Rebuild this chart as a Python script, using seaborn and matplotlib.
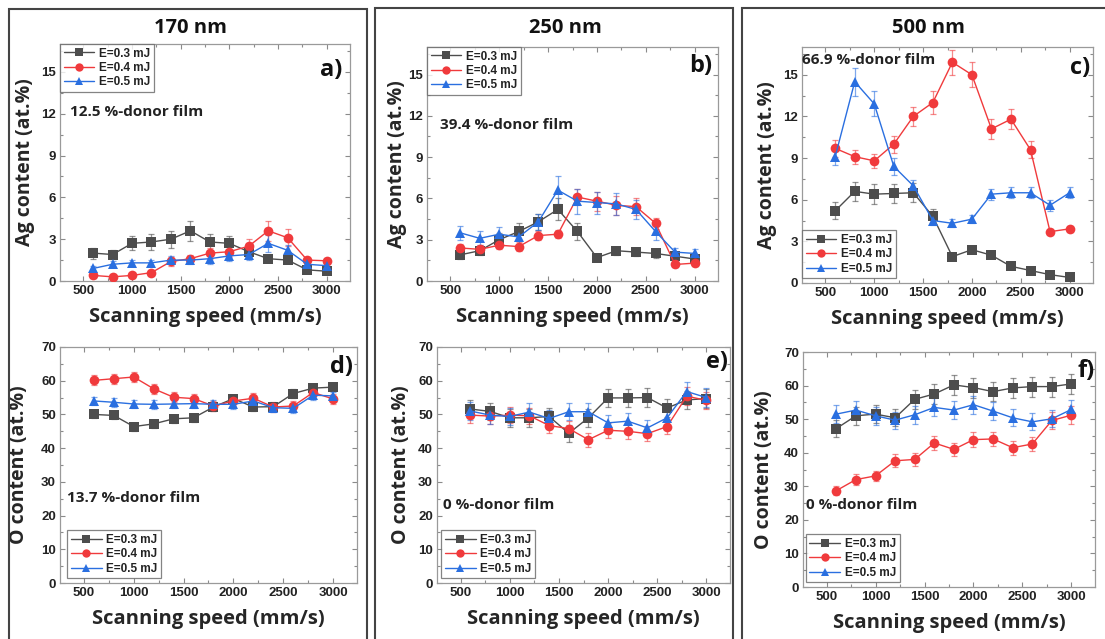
import numpy as np
import pandas as pd
import matplotlib
matplotlib.use("Agg")
import matplotlib.pyplot as plt
import seaborn as sns
from matplotlib.lines import Line2D
from matplotlib.patches import Rectangle
from matplotlib.ticker import MultipleLocator

# ---- data ----
speed = [600, 800, 1000, 1200, 1400, 1600, 1800, 2000, 2200, 2400, 2600, 2800, 3000]
energies = ["E=0.3 mJ", "E=0.4 mJ", "E=0.5 mJ"]

# Ag content, 170 nm
ag170_03 = [2.0, 1.9, 2.7, 2.8, 3.0, 3.6, 2.8, 2.7, 2.1, 1.6, 1.5, 0.8, 0.7]
ag170_04 = [0.4, 0.3, 0.4, 0.6, 1.4, 1.6, 2.0, 2.1, 2.5, 3.6, 3.1, 1.5, 1.45]
ag170_05 = [0.9, 1.2, 1.3, 1.3, 1.5, 1.5, 1.6, 1.8, 1.9, 2.7, 2.2, 1.2, 1.1]
ag170_03_err = [0.4, 0.3, 0.5, 0.6, 0.6, 0.7, 0.6, 0.5, 0.4, 0.2, 0.2, 0.2, 0.2]
ag170_04_err = [0.2, 0.2, 0.2, 0.2, 0.3, 0.3, 0.4, 0.4, 0.5, 0.7, 0.6, 0.2, 0.2]
ag170_05_err = [0.2, 0.2, 0.2, 0.2, 0.3, 0.3, 0.4, 0.4, 0.4, 0.6, 0.4, 0.2, 0.2]

# Ag content, 250 nm
ag250_03 = [1.9, 2.2, 3.0, 3.6, 4.3, 5.2, 3.6, 1.7, 2.2, 2.1, 2.0, 1.8, 1.6]
ag250_04 = [2.4, 2.3, 2.6, 2.5, 3.3, 3.4, 6.1, 5.8, 5.5, 5.4, 4.2, 1.2, 1.3]
ag250_05 = [3.5, 3.1, 3.4, 3.2, 4.3, 6.6, 5.8, 5.7, 5.6, 5.2, 3.6, 2.1, 2.0]
ag250_03_err = [0.3, 0.3, 0.5, 0.6, 0.6, 0.8, 0.6, 0.2, 0.3, 0.3, 0.3, 0.3, 0.3]
ag250_04_err = [0.3, 0.3, 0.3, 0.3, 0.3, 0.3, 0.6, 0.7, 0.7, 0.6, 0.4, 0.2, 0.2]
ag250_05_err = [0.5, 0.5, 0.5, 0.5, 0.6, 1.0, 0.9, 0.8, 0.8, 0.7, 0.6, 0.3, 0.3]

# Ag content, 500 nm
ag500_03 = [5.2, 6.6, 6.4, 6.45, 6.5, 4.8, 1.9, 2.4, 2.0, 1.2, 0.9, 0.6, 0.4]
ag500_04 = [9.7, 9.1, 8.8, 10.0, 12.0, 13.0, 15.9, 15.0, 11.1, 11.8, 9.6, 3.7, 3.9]
ag500_05 = [9.1, 14.5, 12.9, 8.4, 7.0, 4.5, 4.3, 4.6, 6.4, 6.5, 6.5, 5.6, 6.5]
ag500_03_err = [0.6, 0.7, 0.7, 0.7, 0.7, 0.5, 0.2, 0.2, 0.2, 0.2, 0.2, 0.2, 0.2]
ag500_04_err = [0.6, 0.5, 0.5, 0.6, 0.7, 0.8, 0.9, 0.9, 0.7, 0.7, 0.6, 0.2, 0.2]
ag500_05_err = [0.6, 1.0, 0.9, 0.6, 0.4, 0.3, 0.3, 0.3, 0.4, 0.4, 0.4, 0.4, 0.4]

# O content, 170 nm
o170_03 = [50.0, 49.7, 46.4, 47.2, 48.7, 49.0, 52.2, 54.7, 52.2, 52.3, 56.2, 57.8, 58.1]
o170_04 = [60.1, 60.6, 61.1, 57.6, 55.1, 54.7, 52.5, 54.0, 54.8, 52.2, 52.5, 56.5, 54.6]
o170_05 = [54.0, 53.6, 53.1, 53.0, 53.1, 53.2, 53.0, 53.0, 54.0, 52.0, 51.8, 55.7, 55.5]
o170_03_err = [1.2, 1.2, 1.2, 1.2, 1.2, 1.2, 1.2, 1.2, 1.2, 1.2, 1.2, 1.2, 1.2]
o170_04_err = [1.5, 1.5, 1.5, 1.5, 1.5, 1.5, 1.5, 1.5, 1.5, 1.5, 1.5, 1.5, 1.5]
o170_05_err = [1.3, 1.3, 1.3, 1.3, 1.3, 1.3, 1.3, 1.3, 1.3, 1.3, 1.3, 1.3, 1.3]

# O content, 250 nm
o250_03 = [51.6, 50.9, 49.0, 49.0, 49.4, 44.4, 49.0, 54.9, 54.9, 55.0, 51.9, 54.3, 54.7]
o250_04 = [49.8, 49.5, 49.8, 49.6, 46.7, 45.8, 42.5, 45.3, 45.0, 44.3, 46.4, 55.4, 54.2]
o250_05 = [51.0, 49.8, 49.4, 50.7, 48.8, 50.8, 50.8, 47.5, 48.0, 46.0, 49.0, 56.8, 55.0]
o250_03_err = [2.6, 2.6, 2.6, 2.6, 2.6, 2.6, 2.6, 2.7, 2.7, 2.7, 2.6, 2.7, 2.7]
o250_04_err = [2.4, 2.4, 2.4, 2.4, 2.3, 2.2, 2.1, 2.2, 2.2, 2.2, 2.3, 2.7, 2.6]
o250_05_err = [2.6, 2.5, 2.5, 2.6, 2.4, 2.5, 2.5, 2.4, 2.4, 2.3, 2.4, 2.8, 2.7]

# O content, 500 nm
o500_03 = [47.2, 51.0, 51.5, 50.4, 55.9, 57.5, 60.2, 59.4, 58.2, 59.3, 59.7, 59.7, 60.5]
o500_04 = [28.7, 32.0, 33.1, 37.6, 38.0, 42.9, 41.0, 43.9, 44.1, 41.5, 42.6, 49.6, 51.2]
o500_05 = [51.5, 52.7, 51.0, 49.7, 51.3, 53.5, 52.7, 54.3, 52.4, 50.4, 49.2, 50.1, 52.9]
o500_03_err = [2.4, 2.6, 2.6, 2.5, 2.8, 2.9, 3.0, 3.0, 2.9, 3.0, 3.0, 3.0, 3.0]
o500_04_err = [1.4, 1.6, 1.6, 1.9, 1.9, 2.1, 2.0, 2.2, 2.2, 2.1, 2.1, 2.5, 2.6]
o500_05_err = [2.6, 2.6, 2.6, 2.5, 2.6, 2.7, 2.6, 2.7, 2.6, 2.5, 2.5, 2.5, 2.7]

col_titles = ["170 nm", "250 nm", "500 nm"]
film_notes = ["12.5 %-donor film", "39.4 %-donor film", "66.9 %-donor film",
              "13.7 %-donor film", "0 %-donor film", "0 %-donor film"]
panel_tags = ["a)", "b)", "c)", "d)", "e)", "f)"]

colors = {"E=0.3 mJ": "#4d4d4d", "E=0.4 mJ": "#f03a3c", "E=0.5 mJ": "#2a6fe0"}
markers = {"E=0.3 mJ": "s", "E=0.4 mJ": "o", "E=0.5 mJ": "^"}


def make_df(vals, errs):
    rows = []
    for e, v, er in zip(energies, vals, errs):
        for x, y, d in zip(speed, v, er):
            rows.append({"speed": x, "value": y, "err": d, "energy": e})
    return pd.DataFrame(rows)


panels = [
    make_df([ag170_03, ag170_04, ag170_05], [ag170_03_err, ag170_04_err, ag170_05_err]),
    make_df([ag250_03, ag250_04, ag250_05], [ag250_03_err, ag250_04_err, ag250_05_err]),
    make_df([ag500_03, ag500_04, ag500_05], [ag500_03_err, ag500_04_err, ag500_05_err]),
    make_df([o170_03, o170_04, o170_05], [o170_03_err, o170_04_err, o170_05_err]),
    make_df([o250_03, o250_04, o250_05], [o250_03_err, o250_04_err, o250_05_err]),
    make_df([o500_03, o500_04, o500_05], [o500_03_err, o500_04_err, o500_05_err]),
]

sns.set_theme(style="ticks")
plt.rcParams["font.family"] = ["Liberation Sans", "DejaVu Sans"]
plt.rcParams["font.weight"] = "bold"

W, H = 1105, 639
fig = plt.figure(figsize=(W / 100, H / 100), dpi=100)
fig.patch.set_facecolor("white")

# axes boxes in pixels: left, top, right, bottom
boxes = [(60, 44, 350, 281), (427, 47, 718, 281), (802, 47, 1093, 283),
         (60, 347, 357, 583), (437, 347, 730, 583), (803, 352, 1095, 587)]

ylabel_x = [-0.085, -0.07, -0.085, -0.105, -0.09, -0.1]
note_pos = [(0.035, 0.713), (0.045, 0.667), (0.0, 0.945),
            (0.024, 0.36), (0.02, 0.33), (0.01, 0.35)]
tag_pos = [(0.975, 0.89), (0.98, 0.92), (0.99, 0.91),
           (0.987, 0.915), (0.993, 0.936), (1.0, 0.92)]
legend_loc = ["upper left", "upper left", "lower left",
              "lower left", "lower left", "lower left"]
legend_anchor = [(0.0, 1.0), (0.0, 1.0), (0.0, 0.02),
                 (0.025, 0.02), (0.015, 0.02), (0.01, 0.02)]

label_font = ["Open Sans", "DejaVu Sans"]

for i, (df, (l, t, r, b)) in enumerate(zip(panels, boxes)):
    ax = fig.add_axes([l / W, 1 - b / H, (r - l) / W, (b - t) / H])
    for e in energies:
        sub = df[df.energy == e]
        ax.errorbar(sub.speed, sub.value, yerr=sub.err, fmt="none",
                    ecolor=colors[e], alpha=0.6, elinewidth=0.9, capsize=2,
                    capthick=0.9, zorder=2)
    sns.lineplot(data=df, x="speed", y="value", hue="energy", style="energy",
                 palette=colors, markers=markers, dashes=False, legend=False,
                 linewidth=1.0, markersize=7, markeredgewidth=0, ax=ax,
                 zorder=3)

    ax.set_xlim(260, 3240)
    if i < 3:
        ax.set_ylim(0, 17)
        ax.yaxis.set_major_locator(MultipleLocator(3))
        ax.yaxis.set_minor_locator(MultipleLocator(1.5))
        ax.set_ylabel("Ag content (at.%)", fontsize=14, fontweight="bold",
                      family=label_font)
    else:
        ax.set_ylim(0, 70)
        ax.yaxis.set_major_locator(MultipleLocator(10))
        ax.yaxis.set_minor_locator(MultipleLocator(5))
        ax.set_ylabel("O content (at.%)", fontsize=14, fontweight="bold",
                      family=label_font)
    ax.xaxis.set_major_locator(MultipleLocator(500))
    ax.xaxis.set_minor_locator(MultipleLocator(250))
    ax.set_xlabel("Scanning speed (mm/s)", fontsize=14.5, fontweight="bold",
                  family=label_font)
    ax.xaxis.set_label_coords(0.5, -0.11)
    ax.yaxis.set_label_coords(ylabel_x[i], 0.5)

    for s in ax.spines.values():
        s.set_color("#9a9a9a")
        s.set_linewidth(0.9)
    ax.tick_params(which="both", direction="in", top=True, right=True,
                   color="#8a8a8a", width=0.8)
    ax.tick_params(which="major", length=3.5, labelsize=9.5, labelcolor="#222222",
                   pad=3)
    ax.tick_params(which="minor", length=2)
    ax.tick_params(axis="both", which="both", labeltop=False, labelright=False)
    for lab in ax.get_xticklabels() + ax.get_yticklabels():
        lab.set_fontweight("bold")

    ax.text(note_pos[i][0], note_pos[i][1], film_notes[i], transform=ax.transAxes,
            ha="left", va="center", fontsize=11, fontweight="bold",
            family=label_font, color="#222222")
    ax.text(tag_pos[i][0], tag_pos[i][1], panel_tags[i], transform=ax.transAxes,
            ha="right", va="center", fontsize=17, fontweight="bold",
            family=label_font, color="#111111")

    handles = [Line2D([0], [0], color=colors[e], marker=markers[e], lw=1.0,
                      markersize=6, markeredgewidth=0) for e in energies]
    leg = ax.legend(handles, energies, loc=legend_loc[i],
                    bbox_to_anchor=legend_anchor[i], fontsize=8.5,
                    frameon=True, fancybox=False, edgecolor="#666666",
                    handlelength=2.6, handletextpad=0.4, borderpad=0.3,
                    labelspacing=0.2, borderaxespad=0.0)
    leg.get_frame().set_linewidth(0.9)
    for txt in leg.get_texts():
        txt.set_fontweight("bold")
        txt.set_color("#222222")

# column frames and titles
col_frames = [(9, 9, 367), (375, 8, 733), (742, 8, 1112)]
col_centers = [190, 565, 928]
for (x0, y0, x1), cx, title in zip(col_frames, col_centers, col_titles):
    fig.add_artist(Rectangle((x0 / W, -0.05), (x1 - x0) / W, 1 - y0 / H + 0.05,
                             transform=fig.transFigure, fill=False,
                             edgecolor="#444444", linewidth=1.5))
    fig.text(cx / W, 1 - 28 / H, title, ha="center", va="center", fontsize=14.5,
             fontweight="bold", family=label_font, color="#111111")

fig.savefig("out.png", dpi=100)
